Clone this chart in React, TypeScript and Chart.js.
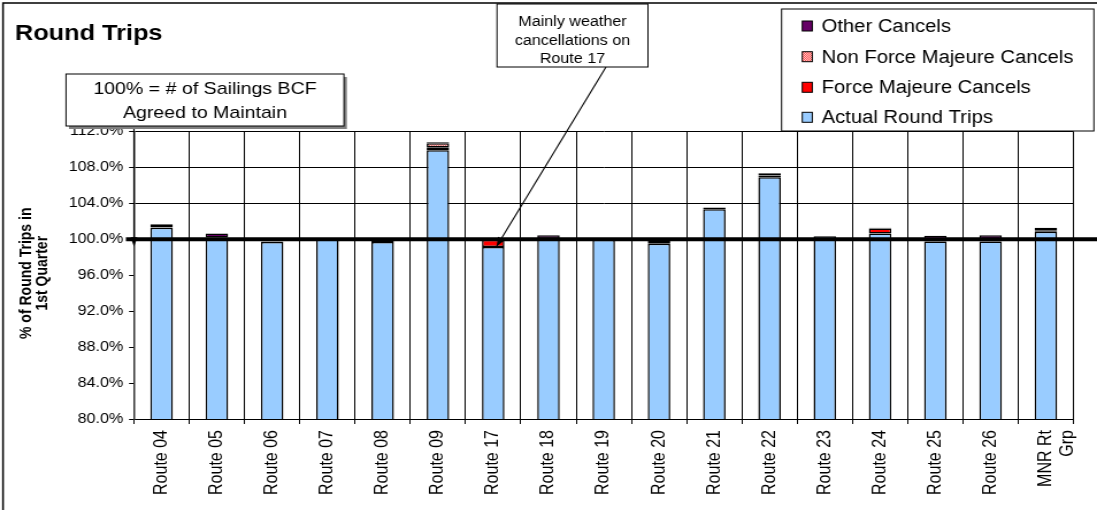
import React, { useEffect, useRef } from 'react';
import { Chart, registerables } from 'chart.js';

Chart.register(...registerables);

// Route categories (last one is the minor-route group, split over two lines)
const routes: (string | string[])[] = [
  'Route 04', 'Route 05', 'Route 06', 'Route 07', 'Route 08', 'Route 09',
  'Route 17', 'Route 18', 'Route 19', 'Route 20', 'Route 21', 'Route 22',
  'Route 23', 'Route 24', 'Route 25', 'Route 26', ['MNR Rt', 'Grp'],
];

// Percent of agreed sailings, stacked bottom to top
const actualRoundTrips = [101.3, 100.2, 99.7, 100.0, 99.7, 109.9, 99.15, 100.05, 99.95, 99.5, 103.35, 106.9, 100.35, 100.65, 99.75, 99.75, 100.85];
const forceMajeureCancels = [0.05, 0, 0, 0, 0, 0.35, 0.8, 0, 0, 0, 0, 0, 0, 0.55, 0.1, 0.1, 0];
const nonForceMajeureCancels = [0, 0, 0, 0, 0, 0.45, 0, 0, 0, 0.3, 0, 0.2, 0, 0, 0, 0, 0.15];
const otherCancels = [0.33, 0.45, 0.05, 0, 0.1, 0.1, 0.05, 0.4, 0, 0.1, 0.2, 0.25, 0, 0.1, 0.55, 0.6, 0.3];

const yMin = 80;
const yMax = 112;
const yStep = 4;
const targetLevel = 100;

const seriesNames = ['Actual Round Trips', 'Force Majeure Cancels', 'Non Force Majeure Cancels', 'Other Cancels'];
const chartTitle = 'Round Trips';
const yAxisTitle = ['% of Round Trips in', '1st Quarter'];
const targetNote = ['100% = # of Sailings BCF', 'Agreed to Maintain'];
const weatherNote = ['Mainly weather', 'cancellations on', 'Route 17'];
const weatherRouteIndex = 6;

// Drawing surface (rendered narrower, displayed wider)
const CW = 954;
const CH = 510;
const FONT = '"Liberation Sans", Arial, Helvetica, sans-serif';
const font = (size: number, bold = false) => `${bold ? 'bold ' : ''}${size}px ${FONT}`;

const BLUE = '#99CCFF';
const RED = '#FF0000';
const PURPLE = '#660066';

function makeDotPattern(ctx: CanvasRenderingContext2D): CanvasPattern | string {
  const pc = document.createElement('canvas');
  pc.width = 2;
  pc.height = 2;
  const g = pc.getContext('2d');
  if (!g) return '#ff9999';
  g.fillStyle = '#ffd0d0';
  g.fillRect(0, 0, 2, 2);
  g.fillStyle = '#ff4a4a';
  g.fillRect(0, 0, 1, 1);
  g.fillRect(1, 1, 1, 1);
  return ctx.createPattern(pc, 'repeat') || '#ff9999';
}

export default function App() {
  const ref = useRef<HTMLCanvasElement>(null);

  useEffect(() => {
    document.body.style.margin = '0';
    const canvas = ref.current;
    if (!canvas) return;
    const c2d = canvas.getContext('2d');
    if (!c2d) return;
    const dotFill = makeDotPattern(c2d);
    const fills = [BLUE, RED, dotFill, PURPLE];

    const overlay = {
      id: 'overlay',
      afterDraw(chart: any) {
        const { ctx, chartArea, scales } = chart;
        const xs = scales.x;
        const ys = scales.y;
        const y100 = ys.getPixelForValue(targetLevel);
        const left = chartArea.left;
        ctx.save();

        // outer frame
        ctx.strokeStyle = '#000';
        ctx.lineWidth = 1.5;
        ctx.beginPath();
        ctx.moveTo(2.6, CH + 5);
        ctx.lineTo(2.6, 3);
        ctx.lineTo(CW + 5, 3);
        ctx.stroke();

        // title
        ctx.fillStyle = '#000';
        ctx.font = font(22, true);
        ctx.textAlign = 'left';
        ctx.textBaseline = 'alphabetic';
        ctx.fillText(chartTitle, 13, 40);

        // y-axis title
        ctx.save();
        ctx.font = font(14, true);
        ctx.textAlign = 'center';
        ctx.textBaseline = 'middle';
        const ty = (chartArea.top + chartArea.bottom) / 2 - 2;
        [23.6, 37.4].forEach((tx, i) => {
          ctx.save();
          ctx.translate(tx, ty);
          ctx.rotate(-Math.PI / 2);
          ctx.fillText(yAxisTitle[i], 0, 0);
          ctx.restore();
        });
        ctx.restore();

        // 100% reference line
        ctx.strokeStyle = '#000';
        ctx.lineWidth = 4;
        ctx.beginPath();
        ctx.moveTo(left - 7, y100);
        ctx.lineTo(CW, y100);
        ctx.stroke();

        // pointer from the target note down to the 100% line
        ctx.lineWidth = 1.2;
        ctx.beginPath();
        ctx.moveTo(left, 126);
        ctx.lineTo(left, y100);
        ctx.stroke();
        ctx.fillStyle = '#000';
        ctx.beginPath();
        ctx.moveTo(left - 3, y100 - 2);
        ctx.lineTo(left + 3, y100 - 2);
        ctx.lineTo(left, y100 + 7.5);
        ctx.closePath();
        ctx.fill();

        // weather note pointer
        const tipX = xs.getPixelForValue(weatherRouteIndex) + 3;
        const tipY = y100 + 7;
        const sx = 527;
        const sy = 67;
        ctx.lineWidth = 1.1;
        ctx.beginPath();
        ctx.moveTo(sx, sy);
        ctx.lineTo(tipX, tipY);
        ctx.stroke();
        const dx = tipX - sx;
        const dy = tipY - sy;
        const len = Math.hypot(dx, dy);
        const ux = dx / len;
        const uy = dy / len;
        const bx = tipX - ux * 9;
        const by = tipY - uy * 9;
        ctx.beginPath();
        ctx.moveTo(tipX, tipY);
        ctx.lineTo(bx - uy * 3.5, by + ux * 3.5);
        ctx.lineTo(bx + uy * 3.5, by - ux * 3.5);
        ctx.closePath();
        ctx.fill();

        // target note box with shadow
        const b1 = { x: 57.4, y: 74, w: 241.7, h: 52 };
        ctx.fillStyle = '#808080';
        ctx.fillRect(b1.x + 2.6, b1.y + 3, b1.w, b1.h);
        ctx.fillStyle = '#fff';
        ctx.fillRect(b1.x, b1.y, b1.w, b1.h);
        ctx.strokeStyle = '#000';
        ctx.lineWidth = 1;
        ctx.strokeRect(b1.x, b1.y, b1.w, b1.h);
        ctx.fillStyle = '#000';
        ctx.font = font(17);
        ctx.textAlign = 'center';
        ctx.textBaseline = 'alphabetic';
        ctx.fillText(targetNote[0], b1.x + b1.w / 2, 94);
        ctx.fillText(targetNote[1], b1.x + b1.w / 2, 118);

        // weather note box
        const b2 = { x: 432.2, y: 4, w: 131.3, h: 63 };
        ctx.fillStyle = '#fff';
        ctx.fillRect(b2.x, b2.y, b2.w, b2.h);
        ctx.strokeRect(b2.x, b2.y, b2.w, b2.h);
        ctx.fillStyle = '#000';
        ctx.font = font(14);
        ctx.textBaseline = 'middle';
        [22, 41, 59].forEach((yy, i) => ctx.fillText(weatherNote[i], b2.x + b2.w / 2, yy));

        // legend
        const lg = { x: 679.7, y: 9, w: 271.6, h: 122 };
        ctx.fillStyle = '#fff';
        ctx.fillRect(lg.x, lg.y, lg.w, lg.h);
        ctx.strokeRect(lg.x, lg.y, lg.w, lg.h);
        const rows = [26, 56.7, 87.3, 117.3];
        const order = [3, 2, 1, 0];
        ctx.font = font(17.6);
        ctx.textAlign = 'left';
        ctx.textBaseline = 'middle';
        order.forEach((si, r) => {
          const cy = rows[r];
          ctx.fillStyle = fills[si] as any;
          ctx.fillRect(697.7, cy - 5, 8.7, 10);
          ctx.strokeRect(697.7, cy - 5, 8.7, 10);
          ctx.fillStyle = '#000';
          ctx.fillText(seriesNames[si], 714.5, cy + 1);
        });

        ctx.restore();
      },
    };

    const series = [actualRoundTrips, forceMajeureCancels, nonForceMajeureCancels, otherCancels];
    const chart = new Chart(canvas, {
      type: 'bar',
      data: {
        labels: routes as any,
        datasets: series.map((d, i) => ({
          label: seriesNames[i],
          data: d,
          backgroundColor: fills[i] as any,
          borderColor: '#000',
          borderWidth: 1.5,
          borderSkipped: false,
          barPercentage: 0.407,
          categoryPercentage: 1,
          stack: 'trips',
        })),
      },
      options: {
        responsive: false,
        devicePixelRatio: 1,
        animation: false,
        events: [],
        layout: { padding: { top: 131.5, right: 1.8, bottom: 0, left: 0 } },
        plugins: {
          legend: { display: false },
          tooltip: { enabled: false },
          title: { display: false },
        },
        scales: {
          x: {
            stacked: true,
            offset: true,
            grid: { offset: true, color: '#000', lineWidth: 1, tickLength: 5, drawTicks: true },
            border: { color: '#000', width: 1 },
            ticks: {
              color: '#000',
              font: { family: FONT, size: 16 },
              minRotation: 90,
              maxRotation: 90,
              autoSkip: false,
              padding: 6,
            },
            afterFit: (scale: any) => { scale.height = 91; },
          },
          y: {
            stacked: true,
            min: yMin,
            max: yMax,
            grid: {
              color: (c: any) => (c.tick && c.tick.value > targetLevel ? '#000' : 'rgba(0,0,0,0)'),
              tickColor: '#000',
              tickLength: 4.3,
              lineWidth: 1,
            },
            border: { color: '#333', width: 1.5 },
            ticks: {
              stepSize: yStep,
              color: '#000',
              font: { family: FONT, size: 14 },
              padding: 5,
              callback: (v: any) => Number(v).toFixed(1) + '%',
            },
            afterFit: (scale: any) => { scale.width = 116.5; },
          },
        },
      },
      plugins: [overlay],
    });

    return () => chart.destroy();
  }, []);

  return (
    <canvas
      ref={ref}
      width={CW}
      height={CH}
      style={{ width: '1097px', height: '510px', display: 'block' }}
    />
  );
}
